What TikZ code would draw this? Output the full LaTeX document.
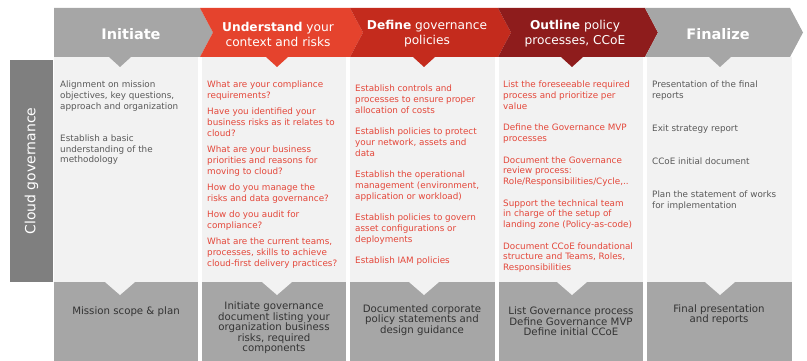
\documentclass[tikz,border=0pt]{standalone}
\usepackage{fontspec}
\setmainfont{DejaVu Sans}
\definecolor{hdgrey}{HTML}{A6A6A6}
\definecolor{hdred}{HTML}{E5432D}
\definecolor{hdcrimson}{HTML}{C42B1D}
\definecolor{hdmaroon}{HTML}{8E1C1C}
\definecolor{panelbg}{HTML}{F2F2F2}
\definecolor{barbg}{HTML}{7F7F7F}
\definecolor{boxbg}{HTML}{A6A6A6}
\definecolor{txtgrey}{HTML}{595959}
\definecolor{txtred}{HTML}{E4473A}
\definecolor{txtdark}{HTML}{333333}
\tikzset{
	every picture/.style={x=1pt, y=-1pt},
	phase/.style={text=white, align=center, font=\fontsize{12.2}{15}\selectfont},
	item/.style={anchor=north west, align=left, inner sep=0, font=\fontsize{8.8}{10.8}\selectfont},
	result/.style={anchor=north, align=center, inner sep=0, text=txtdark, font=\fontsize{10.2}{10.5}\selectfont},
}
\begin{document}
\begin{tikzpicture}
	\useasboundingbox (0,0) rectangle (807,361);
	% columns with their result boxes
	\foreach \xa/\xb/\c in {54/198/120, 202/346/277, 350/495/424, 499/643/572, 647/792/720}{
		\fill[panelbg] (\xa,57) rectangle (\xb,282);
		\fill[boxbg] (\xa,282) rectangle (\xb,361);
		\fill[panelbg] (\c-15,282) -- (\c+15,282) -- (\c,295) -- cycle;
	}
	% phase chevrons
	\foreach \xa/\xb/\n/\col/\c in {54/200/0/hdgrey/120, 200/350/13/hdred/277, 350/498/13/hdcrimson/424, 498/645/13/hdmaroon/572, 645/790/13/hdgrey/720}{
		\fill[\col] (\xa,8) -- (\xb,8) -- (\xb+13,32.5) -- (\xb,57) -- (\xa,57) -- (\xa+\n,32.5) -- cycle;
		\fill[\col] (\c-11,57) -- (\c+11,57) -- (\c,67) -- cycle;
	}
	\fill[barbg] (10,60) rectangle (53,282);
	\node[rotate=90, text=white, font=\fontsize{14}{16}\selectfont] (cloudgov) at (31.5,171) {Cloud governance};
	
	\node[phase, font=\fontsize{14.5}{17}\selectfont] (initiate) at (131,34) {\textbf{Initiate}};
	\node[phase] (understand) at (278,34) {\textbf{Understand} your\\context and risks};
	\node[phase] (define) at (427,34) {\textbf{Define} governance\\policies};
	\node[phase] (outline) at (575,34) {\textbf{Outline} policy\\processes, CCoE};
	\node[phase, font=\fontsize{14.5}{17}\selectfont] (finalize) at (718,34) {\textbf{Finalize}};
	
	\node[item, text=txtgrey] (initiateitems) at (60,81) {Alignment on mission\\objectives, key questions,\\approach and organization\\[21pt]Establish a basic\\understanding of the\\methodology};
	\node[item, text=txtred] (understanditems) at (207,81) {What are your compliance\\requirements?\\[5.4pt]Have you identified your\\business risks as it relates to\\cloud?\\[5.4pt]What are your business\\priorities and reasons for\\moving to cloud?\\[5.4pt]How do you manage the\\risks and data governance?\\[5.4pt]How do you audit for\\compliance?\\[5.4pt]What are the current teams,\\processes, skills to achieve\\cloud-first delivery practices?};
	\node[item, text=txtred] (defineitems) at (355,85) {Establish controls and\\processes to ensure proper\\allocation of costs\\[10.6pt]Establish policies to protect\\your network, assets and\\data\\[10.6pt]Establish the operational\\management (environment,\\application or workload)\\[10.6pt]Establish policies to govern\\asset configurations or\\deployments\\[10.6pt]Establish IAM policies};
	\node[item, text=txtred] (outlineitems) at (503,81) {List the foreseeable required\\process and prioritize per\\value\\[10.6pt]Define the Governance MVP\\processes\\[10.6pt]Document the Governance\\review process:\\Role/Responsibilities/Cycle,..\\[10.6pt]Support the technical team\\in charge of the setup of\\landing zone (Policy-as-code)\\[10.6pt]Document CCoE foundational\\structure and Teams, Roles,\\Responsibilities};
	\node[item, text=txtgrey] (finalizeitems) at (652,81) {Presentation of the final\\reports\\[22.3pt]Exit strategy report\\[22.3pt]CCoE initial document\\[22.3pt]Plan the statement of works\\for implementation};
	
	\node[result] (initiateresult) at (126,307) {Mission scope \& plan};
	\node[result] (understandresult) at (274,302) {Initiate governance\\document listing your\\organization business\\risks, required\\components};
	\node[result] (defineresult) at (422,304.5) {Documented corporate\\policy statements and\\design guidance};
	\node[result] (outlineresult) at (571,307) {List Governance process\\Define Governance MVP\\Define initial CCoE};
	\node[result] (finalizeresult) at (719,304.5) {Final presentation\\and reports};
\end{tikzpicture}
\end{document}
